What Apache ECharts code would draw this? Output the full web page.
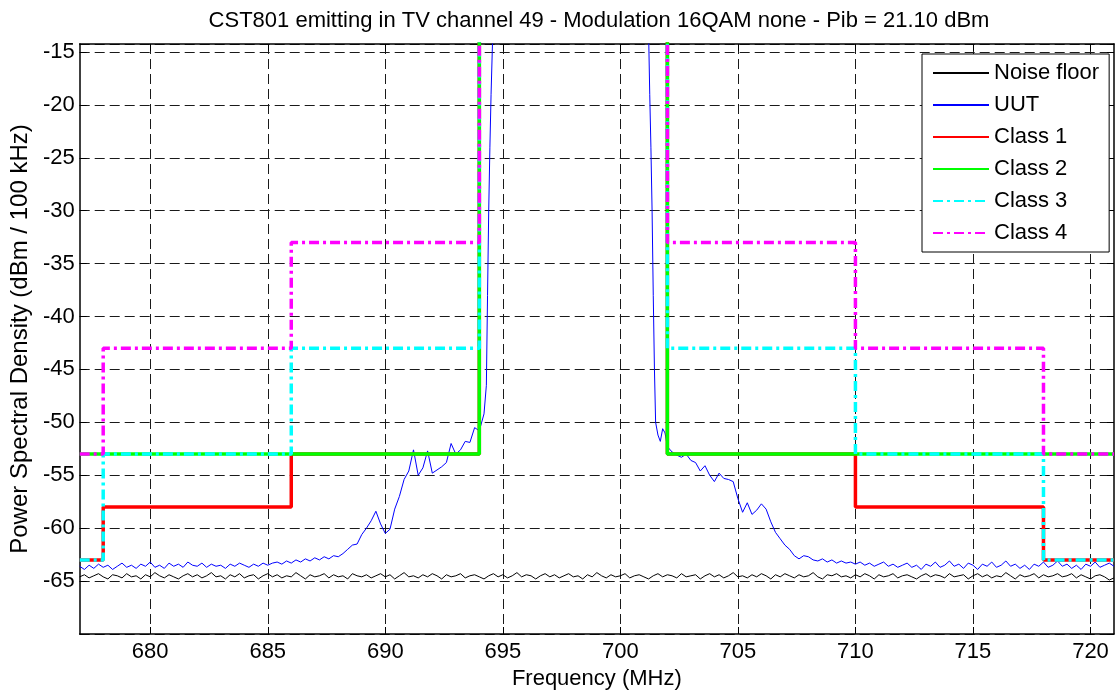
<!DOCTYPE html>
<html lang="en">

<head>
  <meta charset="UTF-8">
  <title>CST801 channel 49</title>
  <style>
    html,
    body {
      margin: 0;
      padding: 0;
      background: #fff;
    }

    #chart {
      width: 1120px;
      height: 695px;
    }
  </style>
</head>

<body>
  <div id="chart"></div>
</body>
<script src="https://cdn.jsdelivr.net/npm/echarts@6/dist/echarts.min.js"></script>
<script>
  // x ticks (MHz) and legend entries
  var freqTicks = [680, 685, 690, 695, 700, 705, 710, 715, 720]
  var legendNames = ['Noise floor', 'UUT', 'Class 1', 'Class 2', 'Class 3', 'Class 4']

  // noise floor sweep, 677 -> 721 MHz every 0.2 MHz
  var noiseStart = 677
  var noiseStep = 0.2
  var noiseFloor = [
    -64.6, -64.4, -64.7, -64.5, -64.3, -64.6, -64.8, -64.4, -64.5, -64.7,
    -64.3, -64.6, -64.5, -64.8, -64.4, -64.6, -64.2, -64.5, -64.7, -64.4,
    -64.6, -64.8, -64.5, -64.3, -64.6, -64.4, -64.7, -64.5, -64.2, -64.6,
    -64.5, -64.8, -64.4, -64.6, -64.3, -64.7, -64.5, -64.4, -64.8, -64.5,
    -64.3, -64.6, -64.4, -64.7, -64.5, -64.6, -64.2, -64.5, -64.8, -64.4,
    -64.6, -64.5, -64.3, -64.7, -64.4, -64.6, -64.5, -64.8, -64.3, -64.5,
    -64.6, -64.4, -64.7, -64.5, -64.3, -64.6, -64.4, -64.8, -64.5, -64.2,
    -64.6, -64.5, -64.7, -64.4, -64.6, -64.3, -64.5, -64.8, -64.4, -64.6,
    -64.5, -64.3, -64.7, -64.5, -64.4, -64.6, -64.8, -64.5, -64.3, -64.6,
    -64.4, -64.7, -64.5, -64.2, -64.6, -64.4, -64.5, -64.8, -64.5, -64.3,
    -64.6, -64.4, -64.7, -64.5, -64.3, -64.6, -64.5, -64.8, -64.4, -64.6,
    -64.2, -64.5, -64.7, -64.4, -64.6, -64.5, -64.3, -64.7, -64.5, -64.4,
    -64.6, -64.8, -64.5, -64.3, -64.6, -64.4, -64.5, -64.7, -64.3, -64.6,
    -64.5, -64.4, -64.8, -64.5, -64.3, -64.6, -64.4, -64.7, -64.5, -64.2,
    -64.6, -64.5, -64.7, -64.4, -64.6, -64.3, -64.5, -64.8, -64.4, -64.6,
    -64.3, -64.5, -64.7, -64.4, -64.6, -64.5, -64.2, -64.6, -64.8, -64.4,
    -64.5, -64.3, -64.6, -64.5, -64.7, -64.4, -64.6, -64.3, -64.5, -64.8,
    -64.4, -64.6, -64.5, -64.3, -64.7, -64.5, -64.4, -64.6, -64.8, -64.5,
    -64.3, -64.6, -64.4, -64.5, -64.7, -64.3, -64.6, -64.5, -64.4, -64.8,
    -64.5, -64.3, -64.6, -64.4, -64.7, -64.5, -64.6, -64.2, -64.5, -64.8,
    -64.4, -64.6, -64.5, -64.3, -64.7, -64.4, -64.6, -64.5, -64.3, -64.6,
    -64.5, -64.3, -64.7, -64.4, -64.6, -64.8, -64.5, -64.4, -64.6, -64.9,
    -64.7
  ]

  // UUT trace [MHz, dBm/100kHz]; in-band part is far above the plot
  var uutTrace = [
    [677.0, -63.6], [677.2, -63.9], [677.4, -63.5], [677.6, -63.8], [677.8, -63.4],
    [678.0, -63.7], [678.2, -63.5], [678.4, -63.9], [678.6, -63.6], [678.8, -63.3],
    [679.0, -63.7], [679.2, -63.5], [679.4, -63.8], [679.6, -63.4], [679.8, -63.6],
    [680.0, -63.2], [680.2, -63.7], [680.4, -63.5], [680.6, -63.8], [680.8, -63.3],
    [681.0, -63.6], [681.2, -63.4], [681.4, -63.7], [681.6, -63.2], [681.8, -63.5],
    [682.0, -63.6], [682.2, -63.3], [682.4, -63.7], [682.6, -63.4], [682.8, -63.6],
    [683.0, -63.5], [683.2, -63.8], [683.4, -63.4], [683.6, -63.6], [683.8, -63.3],
    [684.0, -63.5], [684.2, -63.7], [684.4, -63.4], [684.6, -63.6], [684.8, -63.3],
    [685.0, -63.5], [685.2, -63.3], [685.4, -63.2], [685.6, -63.4], [685.8, -63.1],
    [686.0, -63.3], [686.2, -63.0], [686.4, -63.2], [686.6, -62.9], [686.8, -63.1],
    [687.0, -62.8], [687.2, -63.0], [687.4, -62.7], [687.6, -62.9], [687.8, -62.6],
    [688.0, -62.7], [688.2, -62.4], [688.4, -62.0], [688.6, -61.6], [688.8, -61.5],
    [689.0, -60.6], [689.2, -60.0], [689.4, -59.3], [689.6, -58.4], [689.8, -59.6],
    [690.0, -60.5], [690.2, -60.1], [690.4, -58.2], [690.6, -57.0], [690.8, -55.4],
    [691.0, -54.6], [691.2, -52.6], [691.4, -55.0], [691.6, -54.3], [691.8, -52.7],
    [692.0, -54.8], [692.2, -54.5], [692.4, -54.2], [692.6, -53.8], [692.8, -52.0],
    [693.0, -53.0], [693.2, -52.6], [693.4, -51.8], [693.6, -51.9], [693.8, -50.5],
    [694.0, -50.8], [694.2, -49.2], [694.3, -46.5], [694.35, -38.0], [694.4, -30.0],
    [694.45, -24.0], [694.5, -19.0], [694.55, -15.0], [694.6, -11.0], [694.8, -3.0],
    [695.5, 1.5], [697.0, 2.0], [698.0, 1.8], [699.0, 2.1], [700.5, 1.6],
    [701.0, -4.0], [701.15, -8.0], [701.2, -13.0], [701.25, -19.0], [701.3, -24.0],
    [701.35, -30.0], [701.4, -38.0], [701.45, -45.0], [701.5, -50.0], [701.6, -51.2],
    [701.7, -51.8], [701.8, -50.6], [701.9, -51.0], [702.0, -52.3], [702.2, -52.8],
    [702.4, -53.1], [702.6, -53.3], [702.8, -53.0], [703.0, -53.6], [703.2, -53.8],
    [703.4, -54.6], [703.6, -54.1], [703.8, -55.0], [704.0, -55.6], [704.2, -54.8],
    [704.4, -55.3], [704.6, -55.4], [704.8, -55.6], [705.0, -57.2], [705.2, -58.5],
    [705.4, -57.6], [705.6, -58.7], [705.8, -58.3], [706.0, -57.7], [706.2, -58.2],
    [706.4, -59.4], [706.6, -60.4], [706.8, -61.0], [707.0, -61.6], [707.2, -62.0],
    [707.4, -62.6], [707.6, -62.9], [707.8, -62.6], [708.0, -62.7], [708.2, -63.0],
    [708.4, -63.1], [708.6, -62.9], [708.8, -63.2], [709.0, -63.0], [709.2, -63.3],
    [709.4, -63.1], [709.6, -63.3], [709.8, -63.2], [710.0, -63.4], [710.2, -63.2],
    [710.4, -63.5], [710.6, -63.3], [710.8, -63.6], [711.0, -63.4], [711.2, -63.2],
    [711.4, -63.6], [711.6, -63.4], [711.8, -63.7], [712.0, -63.5], [712.2, -63.3],
    [712.4, -63.7], [712.6, -63.5], [712.8, -63.9], [713.0, -63.4], [713.2, -63.6],
    [713.4, -63.2], [713.6, -63.7], [713.8, -63.5], [714.0, -63.1], [714.2, -63.6],
    [714.4, -63.4], [714.6, -63.8], [714.8, -63.3], [715.0, -63.5], [715.2, -63.9],
    [715.4, -63.4], [715.6, -63.6], [715.8, -63.2], [716.0, -63.7], [716.2, -63.5],
    [716.4, -63.1], [716.6, -63.6], [716.8, -63.4], [717.0, -63.8], [717.2, -63.5],
    [717.4, -63.9], [717.6, -63.4], [717.8, -63.6], [718.0, -63.2], [718.2, -63.7],
    [718.4, -63.5], [718.6, -63.1], [718.8, -63.6], [719.0, -63.4], [719.2, -63.8],
    [719.4, -63.5], [719.6, -63.9], [719.8, -63.4], [720.0, -63.6], [720.2, -63.2],
    [720.4, -63.7], [720.6, -63.5], [720.8, -63.3], [721.0, -63.6]
  ]

  // spectrum masks: shared corner frequencies, one level list per class
  // (10 = above the plot, the in-band part)
  var maskFreq = [677, 678, 678, 686, 686, 694, 694, 702, 702, 710, 710, 718, 718, 721]
  var class1 = [-63, -63, -58, -58, -53, -53, 10, 10, -53, -53, -58, -58, -63, -63]
  var class2 = [-53, -53, -53, -53, -53, -53, 10, 10, -53, -53, -53, -53, -53, -53]
  var class3 = [-63, -63, -53, -53, -43, -43, 10, 10, -43, -43, -53, -53, -63, -63]
  var class4 = [-53, -53, -43, -43, -33, -33, 10, 10, -33, -33, -43, -43, -53, -53]

  var font = 'Liberation Sans, Arial, sans-serif'

  function pairs(xs, ys) {
    return ys.map(function (y, i) { return [xs[i], y] })
  }

  var noiseData = noiseFloor.map(function (v, i) {
    return [+(noiseStart + i * noiseStep).toFixed(1), v]
  })

  function lineSeries(name, data, color, width, type) {
    return {
      name: name,
      type: 'line',
      data: data,
      symbol: 'none',
      showSymbol: false,
      clip: true,
      silent: true,
      lineStyle: { color: color, width: width, type: type || 'solid' },
      itemStyle: { color: color }
    }
  }

  var myChart = echarts.init(document.getElementById('chart'))
  var gridDash = { color: '#1a1a1a', width: 1, type: [10, 5] }

  var option = {
    animation: false,
    backgroundColor: '#fff',
    title: {
      text: 'CST801 emitting in TV channel 49 - Modulation 16QAM none - Pib = 21.10 dBm',
      left: 594,
      textAlign: 'center',
      top: 5,
      textStyle: { fontFamily: font, fontSize: 22, fontWeight: 'normal', color: '#000' }
    },
    legend: {
      data: legendNames,
      orient: 'vertical',
      left: 922,
      top: 54,
      padding: [8, 10, 8, 10],
      itemWidth: 56,
      itemHeight: 12,
      itemGap: 10,
      itemTextGap: 9,
      backgroundColor: '#fff',
      borderColor: '#000',
      borderWidth: 1,
      borderRadius: 0,
      // hide the circle marker that line series put on their legend icon
      itemStyle: { opacity: 0 },
      textStyle: { fontFamily: font, fontSize: 22, lineHeight: 21, color: '#000' }
    },
    grid: { left: 79, top: 44, width: 1035, height: 592, containLabel: false },
    xAxis: [{
      type: 'value',
      min: 677,
      max: 721,
      name: 'Frequency (MHz)',
      nameLocation: 'middle',
      nameGap: 34,
      nameTextStyle: { fontFamily: font, fontSize: 22, color: '#000' },
      axisLine: { show: true, onZero: false, lineStyle: { color: '#000', width: 1.5 } },
      axisTick: { show: true, inside: true, length: 7, customValues: freqTicks, lineStyle: { color: '#000' } },
      axisLabel: { customValues: freqTicks, margin: 7, fontFamily: font, fontSize: 22, color: '#000' },
      splitLine: { show: true, lineStyle: gridDash }
    }, {
      type: 'value',
      position: 'top',
      min: 677,
      max: 721,
      axisLine: { show: true, onZero: false, lineStyle: { color: '#000', width: 1.5 } },
      axisTick: { show: true, inside: true, length: 7, customValues: freqTicks, lineStyle: { color: '#000' } },
      axisLabel: { show: false },
      splitLine: { show: false }
    }],
    yAxis: [{
      type: 'value',
      min: -70,
      max: -14.25,
      interval: 5,
      name: 'Power Spectral Density (dBm / 100 kHz)',
      nameLocation: 'middle',
      nameGap: 43,
      nameTextStyle: { fontFamily: font, fontSize: 24, color: '#000' },
      axisLine: { show: true, onZero: false, lineStyle: { color: '#000', width: 1.5 } },
      axisTick: { show: true, inside: true, length: 7, lineStyle: { color: '#000' } },
      axisLabel: { margin: 5, showMinLabel: false, showMaxLabel: false, fontFamily: font, fontSize: 22, color: '#000' },
      splitLine: { show: true, lineStyle: gridDash }
    }, {
      type: 'value',
      position: 'right',
      min: -70,
      max: -14.25,
      interval: 5,
      axisLine: { show: true, onZero: false, lineStyle: { color: '#000', width: 1.5 } },
      axisTick: { show: true, inside: true, length: 7, lineStyle: { color: '#000' } },
      axisLabel: { show: false },
      splitLine: { show: false }
    }],
    series: [
      lineSeries('Noise floor', noiseData, '#000000', 1),
      lineSeries('UUT', uutTrace, '#0000ff', 1),
      lineSeries('Class 1', pairs(maskFreq, class1), '#ff0000', 3.5),
      lineSeries('Class 2', pairs(maskFreq, class2), '#00ff00', 3.5),
      lineSeries('Class 3', pairs(maskFreq, class3), '#00ffff', 3.5, [10, 4, 3, 4]),
      lineSeries('Class 4', pairs(maskFreq, class4), '#ff00ff', 3.5, [10, 4, 3, 4])
    ]
  }
  myChart.setOption(option)
</script>

</html>
